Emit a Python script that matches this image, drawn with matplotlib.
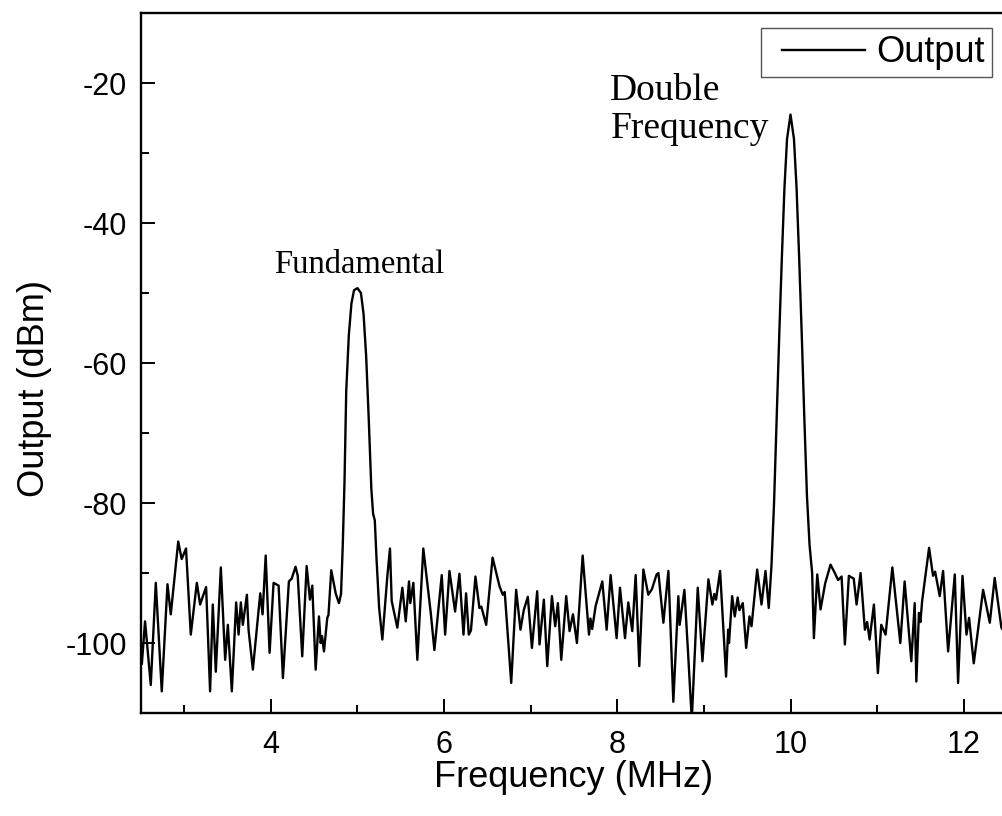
import numpy as np
import matplotlib
matplotlib.use("Agg")
import matplotlib.pyplot as plt
from matplotlib.ticker import MultipleLocator
from matplotlib.lines import Line2D
from matplotlib.legend_handler import HandlerLine2D

plt.rcParams["axes.unicode_minus"] = False

# spectrum trace (MHz, dBm)
freq = [
    2.49, 2.51, 2.547, 2.613, 2.671, 2.740, 2.806, 2.844, 2.93, 2.97,
    3.02, 3.075, 3.145, 3.183, 3.21, 3.252, 3.298, 3.329, 3.364, 3.422,
    3.472, 3.503, 3.549, 3.599, 3.627, 3.653, 3.676, 3.723, 3.742, 3.792,
    3.877, 3.904, 3.94, 3.985, 4.031, 4.089, 4.139, 4.208, 4.24, 4.285,
    4.31, 4.362, 4.413, 4.451, 4.478, 4.517, 4.555, 4.575, 4.59, 4.613,
    4.651, 4.665, 4.697, 4.75, 4.786, 4.81, 4.83, 4.85, 4.87, 4.90,
    4.93, 4.96, 5.00, 5.04, 5.07, 5.10, 5.13, 5.16, 5.18, 5.20,
    5.22, 5.25, 5.287, 5.345, 5.375, 5.395, 5.46, 5.518, 5.557, 5.595,
    5.61, 5.645, 5.691, 5.76, 5.846, 5.888, 5.973, 6.012, 6.062, 6.127,
    6.177, 6.224, 6.254, 6.285, 6.31, 6.362, 6.408, 6.43, 6.486, 6.56,
    6.64, 6.678, 6.70, 6.775, 6.832, 6.882, 6.92, 6.967, 7.014, 7.075,
    7.102, 7.152, 7.191, 7.245, 7.283, 7.314, 7.353, 7.41, 7.449, 7.488,
    7.534, 7.60, 7.673, 7.69, 7.71, 7.75, 7.827, 7.877, 7.923, 7.992,
    8.031, 8.089, 8.127, 8.173, 8.212, 8.254, 8.301, 8.358, 8.40, 8.454,
    8.475, 8.532, 8.590, 8.647, 8.705, 8.72, 8.775, 8.82, 8.86, 8.929,
    8.983, 9.052, 9.098, 9.12, 9.14, 9.187, 9.256, 9.28, 9.29, 9.326,
    9.356, 9.39, 9.41, 9.449, 9.488, 9.526, 9.55, 9.615, 9.665, 9.711,
    9.749, 9.78, 9.81, 9.84, 9.87, 9.90, 9.93, 9.96, 10.00, 10.04,
    10.07, 10.10, 10.13, 10.16, 10.19, 10.22, 10.25, 10.27, 10.309, 10.347,
    10.40, 10.462, 10.50, 10.55, 10.59, 10.628, 10.674, 10.73, 10.763, 10.809,
    10.859, 10.885, 10.913, 10.963, 11.009, 11.048, 11.098, 11.176, 11.268, 11.318,
    11.395, 11.434, 11.453, 11.483, 11.50, 11.52, 11.60, 11.646, 11.67, 11.723,
    11.762, 11.82, 11.897, 11.935, 11.986, 12.032, 12.062, 12.116, 12.224, 12.301,
    12.358, 12.435, 12.5,
]
power = [
    -99.0, -103.0, -96.9, -106.0, -91.4, -106.9, -91.6, -95.9, -85.5, -88.0,
    -86.5, -98.8, -91.4, -94.5, -93.5, -92.0, -106.9, -94.5, -104.1, -89.2,
    -102.4, -97.4, -106.9, -94.2, -98.8, -94.2, -97.4, -93.1, -98.1, -103.8,
    -92.9, -95.9, -87.5, -101.4, -91.4, -91.8, -105.0, -91.2, -90.8, -89.1,
    -90.4, -101.9, -89.0, -93.8, -91.8, -103.8, -96.2, -100.0, -99.0, -101.2,
    -96.4, -96.0, -89.6, -93.0, -94.3, -93.0, -86.0, -77.0, -64.0, -56.0,
    -51.5, -49.6, -49.3, -50.0, -53.0, -59.0, -68.0, -78.0, -81.5, -82.5,
    -88.0, -95.0, -99.5, -90.4, -86.5, -94.0, -97.8, -92.1, -96.9, -91.2,
    -94.3, -91.4, -102.4, -86.5, -95.7, -101.0, -90.3, -98.8, -89.7, -95.5,
    -90.1, -98.8, -92.9, -98.8, -98.2, -90.5, -95.0, -94.8, -97.4, -87.8,
    -91.9, -93.1, -92.7, -105.7, -92.4, -98.1, -95.3, -93.4, -100.7, -92.6,
    -100.2, -93.8, -103.3, -93.3, -97.6, -94.3, -102.4, -93.3, -98.3, -95.9,
    -100.0, -87.5, -98.8, -96.5, -98.0, -94.7, -91.2, -98.1, -90.3, -99.3,
    -92.1, -99.3, -94.2, -98.3, -90.3, -103.3, -89.5, -93.1, -92.3, -90.2,
    -90.0, -97.1, -89.7, -108.4, -93.3, -97.4, -92.4, -102.0, -111.0, -92.1,
    -102.6, -90.9, -94.5, -93.0, -93.8, -89.7, -104.8, -98.1, -100.0, -93.3,
    -96.2, -93.5, -95.3, -94.3, -100.7, -96.2, -97.6, -89.5, -94.5, -89.7,
    -95.0, -89.0, -80.0, -68.0, -56.0, -45.0, -35.0, -28.0, -24.5, -28.0,
    -35.0, -45.0, -56.0, -68.0, -79.0, -86.0, -90.0, -99.3, -90.2, -95.2,
    -91.5, -88.8, -89.7, -91.0, -90.5, -100.2, -90.4, -90.8, -94.5, -90.0,
    -98.1, -97.0, -99.5, -94.5, -104.3, -97.4, -98.8, -89.2, -100.0, -91.2,
    -102.6, -94.3, -105.5, -95.7, -97.0, -94.0, -86.4, -90.4, -89.8, -93.3,
    -89.7, -101.2, -90.2, -105.7, -90.4, -98.8, -96.4, -102.9, -92.4, -97.1,
    -90.7, -97.8, -99.0,
]

sans = "Liberation Sans"
serif = "Liberation Serif"

fig = plt.figure(figsize=(10.02, 8.16), dpi=100)
ax = fig.add_axes([0.1407, 0.1262, 0.8643, 0.8578])

ax.plot(freq, power, color="black", lw=1.7, label="Output", solid_joinstyle="round")

ax.set_xlim(2.5, 12.5)
ax.set_ylim(-110, -10)
ax.xaxis.set_major_locator(MultipleLocator(2))
ax.xaxis.set_minor_locator(MultipleLocator(1))
ax.yaxis.set_major_locator(MultipleLocator(20))
ax.yaxis.set_minor_locator(MultipleLocator(10))
ax.tick_params(which="both", direction="in", top=False, right=False, width=1.4)
ax.tick_params(which="major", length=10, labelsize=22)
ax.tick_params(axis="x", which="major", pad=12)
ax.tick_params(axis="y", which="major", pad=10)
ax.tick_params(which="minor", length=5.5)
for lab in ax.get_xticklabels() + ax.get_yticklabels():
    lab.set_family(sans)
for s in ax.spines.values():
    s.set_linewidth(1.7)

ax.set_xlabel("Frequency (MHz)", family=sans, fontsize=26, labelpad=0)
ax.set_ylabel("Output (dBm)", family=sans, fontsize=26)
ax.yaxis.set_label_coords(-0.103, 0.464)

ax.text(5.02, -47.2, "Fundamental", family=serif, fontsize=23.5, ha="center", va="baseline")
ax.text(7.92, -22.4, "Double", family=serif, fontsize=27, ha="left", va="baseline")
ax.text(7.92, -27.9, "Frequency", family=serif, fontsize=27, ha="left", va="baseline")

leg = ax.legend(loc="upper right", bbox_to_anchor=(992 / 1002, 1 - 28 / 816),
                bbox_transform=fig.transFigure, prop={"family": sans, "size": 26},
                handlelength=2.7, handletextpad=0.3, borderpad=0.2,
                handler_map={Line2D: HandlerLine2D(xpad=0.39)},
                fancybox=False, framealpha=1, borderaxespad=0)
leg.get_frame().set_edgecolor("#555555")
leg.get_frame().set_linewidth(1.0)

fig.savefig("out.png", dpi=100)
